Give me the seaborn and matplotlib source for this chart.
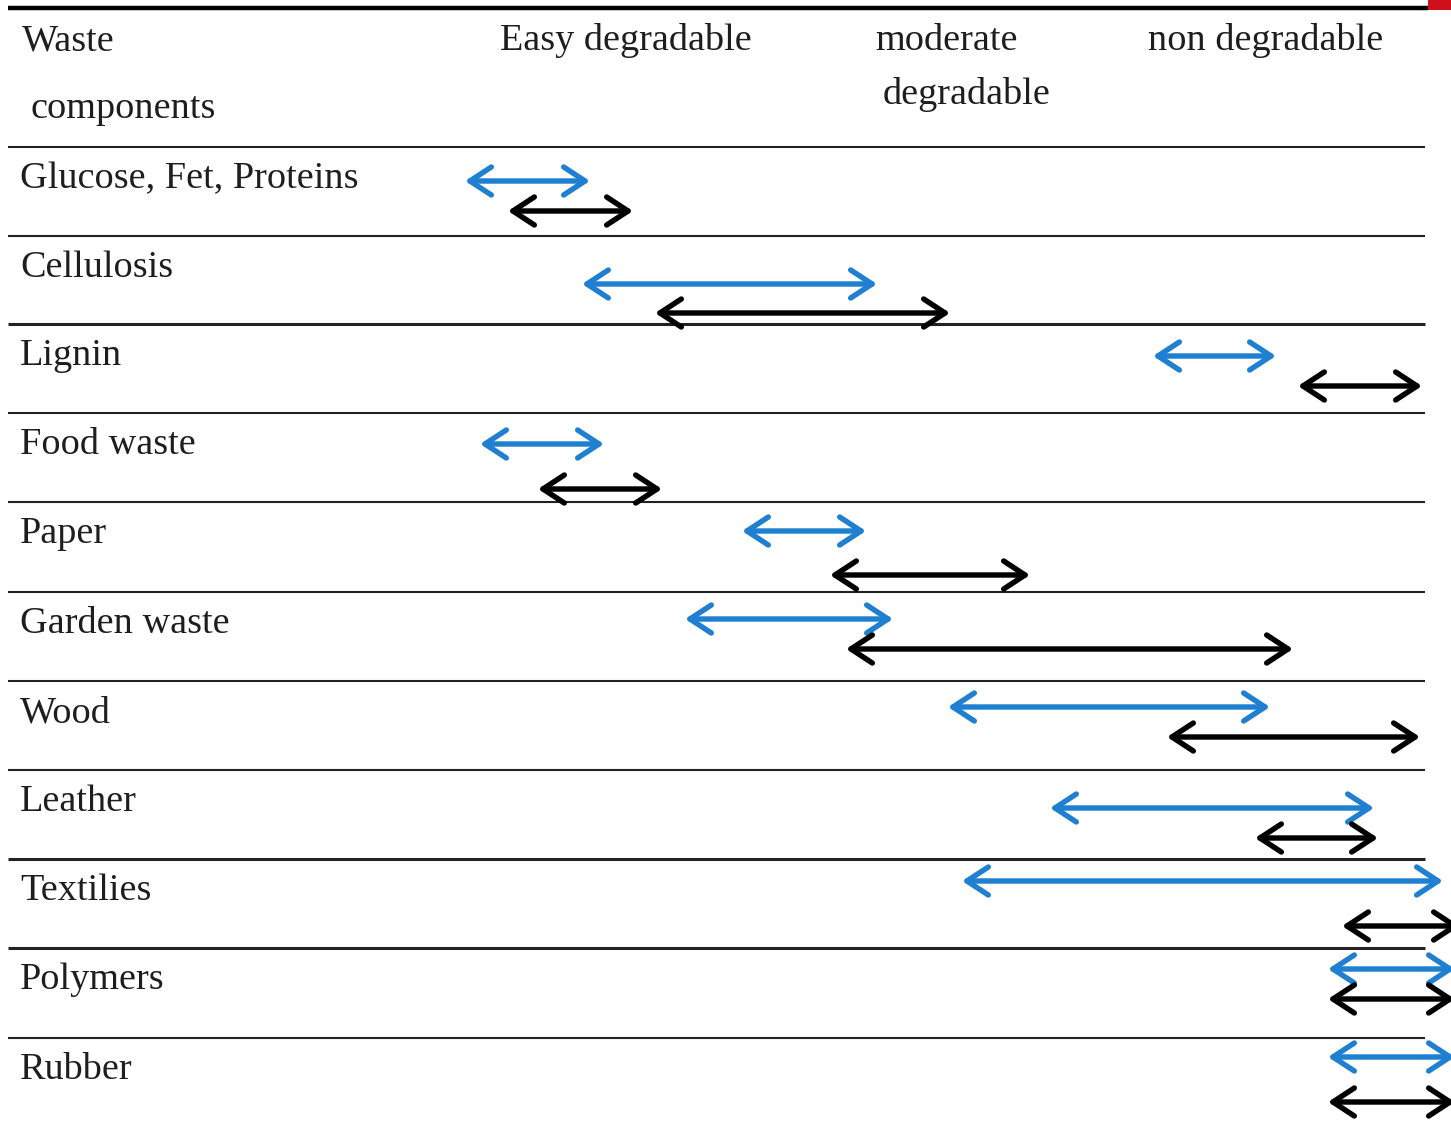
import matplotlib.pyplot as plt
import seaborn as sns

# table layout values (in pixel-like units)
components = ["Glucose, Fet, Proteins", "Cellulosis", "Lignin", "Food waste",
              "Paper", "Garden waste", "Wood", "Leather", "Textilies",
              "Polymers", "Rubber"]
row_tops = [147, 236, 324, 413, 502, 592, 681, 770, 859, 948, 1038]
rule_widths = [1.5, 1.5, 2.2, 1.5, 1.5, 1.5, 1.5, 1.5, 2.2, 2.2, 1.5]

blue_start = [465, 582, 1153, 480, 742, 685, 948, 1050, 962, 1328, 1328]
blue_end = [590, 877, 1276, 604, 866, 893, 1270, 1374, 1443, 1455, 1455]
blue_y = [181, 284, 356, 444, 531, 619, 707, 808, 881, 969, 1057]

black_start = [508, 655, 1298, 538, 830, 846, 1167, 1255, 1342, 1328, 1328]
black_end = [633, 950, 1422, 662, 1030, 1293, 1420, 1378, 1460, 1455, 1455]
black_y = [211, 313, 386, 489, 575, 649, 737, 838, 926, 999, 1102]

headers = ["Waste", "components", "Easy degradable", "moderate",
           "degradable", "non degradable"]
header_x = [22, 30, 500, 875, 883, 1148]
header_y = [41, 109, 41, 41, 94, 41]

W, H = 1451, 1123
BLUE = "#1f7fd0"
TEXT = "#1e1e1e"

sns.set_theme(style="white")
plt.rcParams["font.family"] = ["Liberation Serif", "DejaVu Serif"]

fig = plt.figure(figsize=(W / 100, H / 100), dpi=100)
ax = fig.add_axes([0, 0, 1, 1])
ax.set_xlim(0, W)
ax.set_ylim(H, 0)
ax.axis("off")

# rules
ax.plot([8, 1428], [8, 8], color="black", lw=3.2, solid_capstyle="butt")
ax.add_patch(plt.Rectangle((1428, 0), 30, 10, color="#d0101a", lw=0))
for top, lw in zip(row_tops, rule_widths):
    ax.plot([8, 1425], [top, top], color="#222222", lw=lw, solid_capstyle="butt")

for txt, x, y in zip(headers, header_x, header_y):
    ax.text(x, y, txt, fontsize=27.5, color=TEXT, va="center", ha="left")

for name, top in zip(components, row_tops):
    ax.text(20, top + 32, name, fontsize=27.5, color=TEXT, va="center", ha="left")


def arrow(x0, x1, y, color):
    ax.annotate("", xy=(x1, y), xytext=(x0, y), annotation_clip=False,
                arrowprops=dict(arrowstyle="<->,head_length=0.55,head_width=0.36",
                                color=color, lw=3.9, mutation_scale=28,
                                shrinkA=0, shrinkB=0))


for x0, x1, y in zip(blue_start, blue_end, blue_y):
    arrow(x0, x1, y, BLUE)
for x0, x1, y in zip(black_start, black_end, black_y):
    arrow(x0, x1, y, "black")

fig.savefig("out.png", dpi=100, facecolor="white")
